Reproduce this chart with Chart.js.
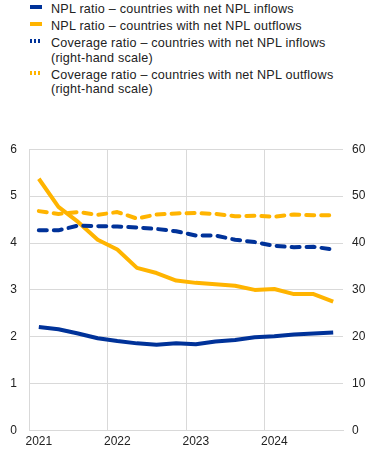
<!DOCTYPE html>
<html>
<head>
<meta charset="utf-8">
<script src="https://cdn.jsdelivr.net/npm/chart.js@4"></script>
<style>
  body { margin: 0; background: #fff; font-family: Arial, "Liberation Sans", sans-serif; }
  #wrap { position: relative; width: 373px; height: 457px; }
  #legend { position: absolute; left: 0; top: 2px; width: 373px; font-size: 12.6px; letter-spacing: 0.22px; color: #222; }
  .item { position: relative; padding-left: 51px; line-height: 14.5px; margin-bottom: 2.5px; }
  .mark { position: absolute; left: 30px; top: 3px; width: 12px; height: 4px; }
  #box { position: absolute; left: 0; top: 130px; width: 373px; height: 327px; }
</style>
</head>
<body>
<div id="wrap">
  <div id="legend"></div>
  <div id="box"><canvas id="chart"></canvas></div>
</div>
<script>
// quarterly, 2021 Q1 - 2024 Q4
const categories = [
  "2021", "2021 Q2", "2021 Q3", "2021 Q4",
  "2022", "2022 Q2", "2022 Q3", "2022 Q4",
  "2023", "2023 Q2", "2023 Q3", "2023 Q4",
  "2024", "2024 Q2", "2024 Q3", "2024 Q4"
];
const yearLabels = ["2021", "2022", "2023", "2024"];

const nplInflows  = [2.21, 2.16, 2.07, 1.97, 1.91, 1.86, 1.83, 1.86, 1.84, 1.90, 1.93, 1.99, 2.01, 2.05, 2.07, 2.09];
const nplOutflows = [5.37, 4.77, 4.45, 4.07, 3.86, 3.47, 3.36, 3.20, 3.15, 3.12, 3.09, 3.00, 3.02, 2.91, 2.91, 2.75];
const covInflows  = [42.7, 42.7, 43.7, 43.6, 43.5, 43.3, 43.0, 42.5, 41.6, 41.6, 40.7, 40.2, 39.4, 39.1, 39.2, 38.6];
const covOutflows = [46.8, 46.2, 46.6, 46.0, 46.6, 45.2, 46.1, 46.3, 46.4, 46.2, 45.7, 45.8, 45.6, 46.1, 45.9, 45.9];

const leftTicks = [0, 1, 2, 3, 4, 5, 6];
const rightTicks = [0, 10, 20, 30, 40, 50, 60];

const BLUE = "#003299";
const YELLOW = "#ffb400";
const GRID = "#d9d9d9";
const FONT = { family: "Arial, 'Liberation Sans'", size: 12 };

// ================= LEGEND =================
const legendItems = [
  ["NPL ratio \u2013 countries with net NPL inflows", BLUE, false],
  ["NPL ratio \u2013 countries with net NPL outflows", YELLOW, false],
  ["Coverage ratio \u2013 countries with net NPL inflows<br>(right-hand scale)", BLUE, true],
  ["Coverage ratio \u2013 countries with net NPL outflows<br>(right-hand scale)", YELLOW, true]
];
document.getElementById("legend").innerHTML = legendItems.map(([t, c, dash]) => {
  const bg = dash
    ? `repeating-linear-gradient(90deg, ${c} 0 2px, transparent 2px 4px)`
    : c;
  return `<div class="item"><span class="mark" style="background:${bg}"></span>${t}</div>`;
}).join("");

// ================= CHART =================
const line = (label, data, color, axis, dashed) => ({
  label, data,
  yAxisID: axis,
  borderColor: color,
  backgroundColor: color,
  borderWidth: 4,
  borderDash: dashed ? [8, 7] : [],
  borderCapStyle: dashed ? "round" : "butt",
  borderJoinStyle: "round",
  pointRadius: 0,
  tension: 0,
  fill: false
});

new Chart(document.getElementById("chart"), {
  type: "line",
  data: {
    labels: categories,
    datasets: [
      line("Coverage outflows", covOutflows, YELLOW, "y2", true),
      line("Coverage inflows", covInflows, BLUE, "y2", true),
      line("NPL outflows", nplOutflows, YELLOW, "y", false),
      line("NPL inflows", nplInflows, BLUE, "y", false)
    ]
  },
  options: {
    responsive: true,
    maintainAspectRatio: false,
    animation: false,
    layout: { padding: { left: 0, right: 0, top: 5, bottom: 4 } },
    plugins: { legend: { display: false }, tooltip: { enabled: false } },
    scales: {
      x: {
        offset: true,
        grid: {
          offset: true,
          drawTicks: false,
          color: (ctx) => (ctx.index % 4 === 0 ? GRID : "transparent")
        },
        border: { color: GRID },
        ticks: {
          autoSkip: false,
          maxRotation: 0,
          padding: 4,
          color: "#222",
          font: FONT,
          callback: (v, i) => (i % 4 === 0 ? yearLabels[i / 4] : "")
        }
      },
      y: {
        position: "left",
        min: leftTicks[0],
        max: leftTicks[leftTicks.length - 1],
        afterBuildTicks: (s) => { s.ticks = leftTicks.map(v => ({ value: v })); },
        afterFit: (s) => { s.width = 29; },
        grid: { color: GRID, drawTicks: false },
        border: { color: GRID },
        ticks: { padding: 12, color: "#222", font: FONT }
      },
      y2: {
        position: "right",
        min: rightTicks[0],
        max: rightTicks[rightTicks.length - 1],
        afterBuildTicks: (s) => { s.ticks = rightTicks.map(v => ({ value: v })); },
        afterFit: (s) => { s.width = 30; },
        grid: { display: false, drawTicks: false },
        border: { display: false },
        ticks: { padding: 9, color: "#222", font: FONT }
      }
    }
  }
});
</script>
</body>
</html>
